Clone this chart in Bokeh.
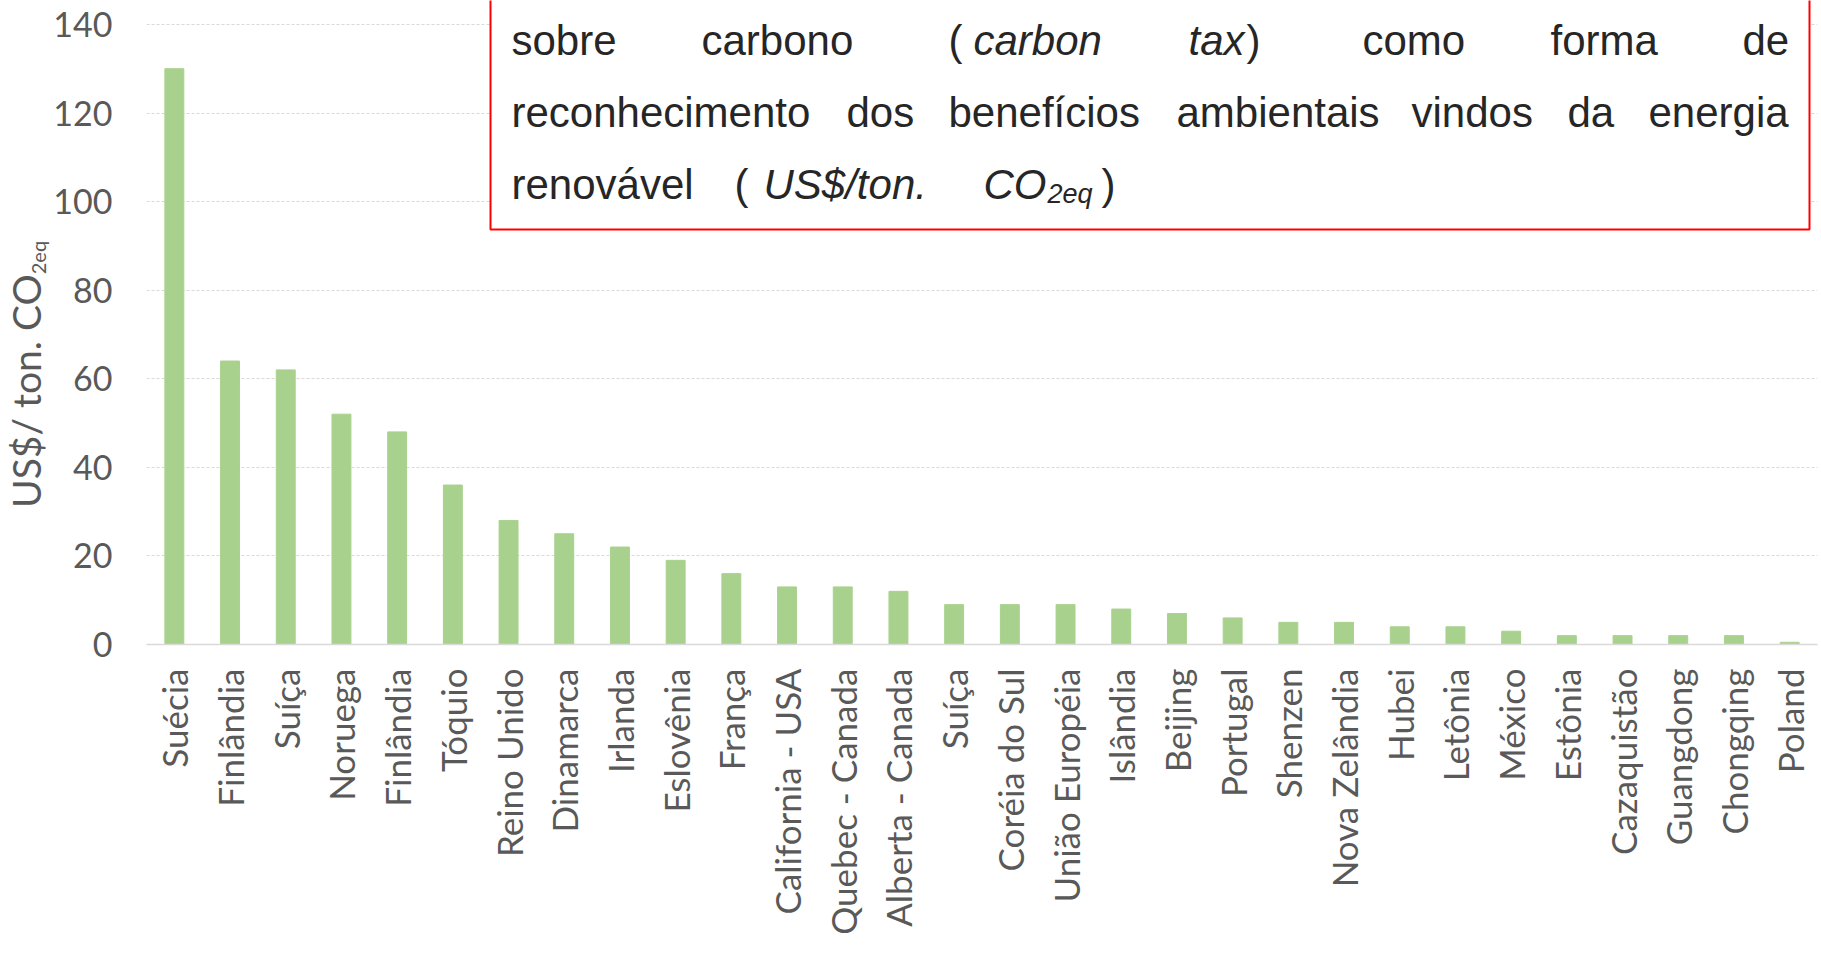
import math
from bokeh.plotting import figure
from bokeh.layouts import row
from bokeh.models import Range1d, FixedTicker, Label, BoxAnnotation
from bokeh.embed import file_html
from bokeh.resources import INLINE

# ---- data ----
categories = ["Suécia", "Finlândia", "Suíça", "Noruega", "Finlândia", "Tóquio",
              "Reino Unido", "Dinamarca", "Irlanda", "Eslovênia", "França",
              "California - USA", "Quebec - Canada", "Alberta - Canada", "Suíça",
              "Coréia do Sul", "União Européia", "Islândia", "Beijing", "Portugal",
              "Shenzen", "Nova Zelândia", "Hubei", "Letônia", "México", "Estônia",
              "Cazaquistão", "Guangdong", "Chongqing", "Poland"]
values = [130, 64, 62, 52, 48, 36, 28, 25, 22, 19, 16, 13, 13, 12, 9, 9, 9, 8,
          7, 6, 5, 5, 4, 4, 3, 2, 2, 2, 2, 0.5]
y_ticks = [0, 20, 40, 60, 80, 100, 120, 140]
idx = list(range(len(categories)))

# ---- layout constants (canvas px) ----
W, H = 1821, 955
TITLE_W = 50                      # narrow strip holding the y-axis title
LEFT, RIGHT, TOP, BOTTOM = 146, 4, 0, 311
FRAME_LEFT = LEFT                 # canvas x of frame left
FRAME_BOTTOM = H - BOTTOM         # canvas y of frame bottom


def sx(cx):
    return cx - FRAME_LEFT


def sy(cy):
    return FRAME_BOTTOM - cy


label_color = "#595959"
font = "Lato"

# ---- y-axis title strip ----
t = figure(width=TITLE_W, height=H, output_backend="svg", toolbar_location=None,
           x_range=Range1d(0, TITLE_W), y_range=Range1d(0, H),
           x_axis_location=None, y_axis_location=None,
           min_border_left=0, min_border_right=0, min_border_top=0, min_border_bottom=0)
t.outline_line_color = None
t.grid.visible = False
t.background_fill_color = "white"
t.border_fill_color = "white"
TITLE_Y = 549
t.add_layout(Label(x=25, y=TITLE_Y, text="US$/ ton. CO", angle=math.pi / 2,
                   text_align="right", text_baseline="alphabetic", text_font=font,
                   text_font_size="39px", text_color=label_color))
t.add_layout(Label(x=37, y=TITLE_Y, text="2eq", angle=math.pi / 2,
                   text_align="left", text_baseline="alphabetic", text_font=font,
                   text_font_size="20px", text_color=label_color))

# ---- main chart ----
p = figure(width=W - TITLE_W, height=H, output_backend="svg", toolbar_location=None,
           x_range=Range1d(-0.5, len(categories) - 0.5),
           y_range=Range1d(0, 145.4),
           min_border_left=LEFT - TITLE_W, min_border_right=RIGHT,
           min_border_top=TOP, min_border_bottom=BOTTOM)
p.outline_line_color = None
p.background_fill_color = "white"
p.border_fill_color = "white"

p.vbar(x=idx, top=values, width=0.34, fill_color="#A9D18E", line_color="#A9D18E")

p.xaxis.ticker = FixedTicker(ticks=idx)
p.xaxis.major_label_overrides = {i: c for i, c in enumerate(categories)}
p.xaxis.major_label_orientation = math.pi / 2
p.xaxis.major_label_text_font = font
p.xaxis.major_label_text_font_size = "35px"
p.xaxis.major_label_text_color = label_color
p.xaxis.major_label_standoff = 18
p.xaxis.major_tick_line_color = None
p.xaxis.minor_tick_line_color = None
p.xaxis.axis_line_color = "#D9D9D9"
p.xaxis.axis_line_width = 1.5

p.yaxis.ticker = FixedTicker(ticks=y_ticks)
p.yaxis.major_label_text_font = font
p.yaxis.major_label_text_font_size = "34px"
p.yaxis.major_label_text_color = label_color
p.yaxis.major_label_standoff = 28
p.yaxis.major_tick_line_color = None
p.yaxis.minor_tick_line_color = None
p.yaxis.axis_line_color = None

p.xgrid.visible = False
p.ygrid.grid_line_color = "#D9D9D9"
p.ygrid.grid_line_dash = "3 2"
p.ygrid.grid_line_width = 1

# red text box
p.add_layout(BoxAnnotation(left=sx(490), right=sx(1809), bottom=sy(229), top=sy(-5),
                           left_units="screen", right_units="screen",
                           bottom_units="screen", top_units="screen",
                           fill_color="white", fill_alpha=1.0,
                           line_color="#FF0000", line_alpha=1.0, line_width=2))

box_words = [
    # (text, canvas x, canvas baseline y, italic, size)
    ("sobre", 511, 40, False, 42), ("carbono", 701, 40, False, 42),
    ("(", 948, 40, False, 42), ("carbon", 973, 40, True, 42),
    ("tax", 1188, 40, True, 42), (")", 1246, 40, False, 42),
    ("como", 1362, 40, False, 42), ("forma", 1550, 40, False, 42),
    ("de", 1742, 40, False, 42),
    ("reconhecimento", 511, 112, False, 42), ("dos", 846, 112, False, 42),
    ("benefícios", 948, 112, False, 42), ("ambientais", 1176, 112, False, 42),
    ("vindos", 1411, 112, False, 42), ("da", 1567, 112, False, 42),
    ("energia", 1648, 112, False, 42),
    ("renovável", 511, 184, False, 42), ("(", 734, 184, False, 42),
    ("US$/ton.", 763, 184, True, 42), ("CO", 983, 184, True, 42),
    ("2eq", 1047, 193, True, 27), (")", 1101, 184, False, 42),
]
for txt, cx, cy, it, fs in box_words:
    p.add_layout(Label(x=sx(cx), y=sy(cy), x_units="screen", y_units="screen",
                       text=txt, text_align="left", text_baseline="alphabetic",
                       text_font="Liberation Sans", text_font_size=f"{fs}px",
                       text_font_style="italic" if it else "normal",
                       text_color="#262626"))

layout = row(t, p, spacing=0)
open("out.html", "w").write(file_html(layout, INLINE))
